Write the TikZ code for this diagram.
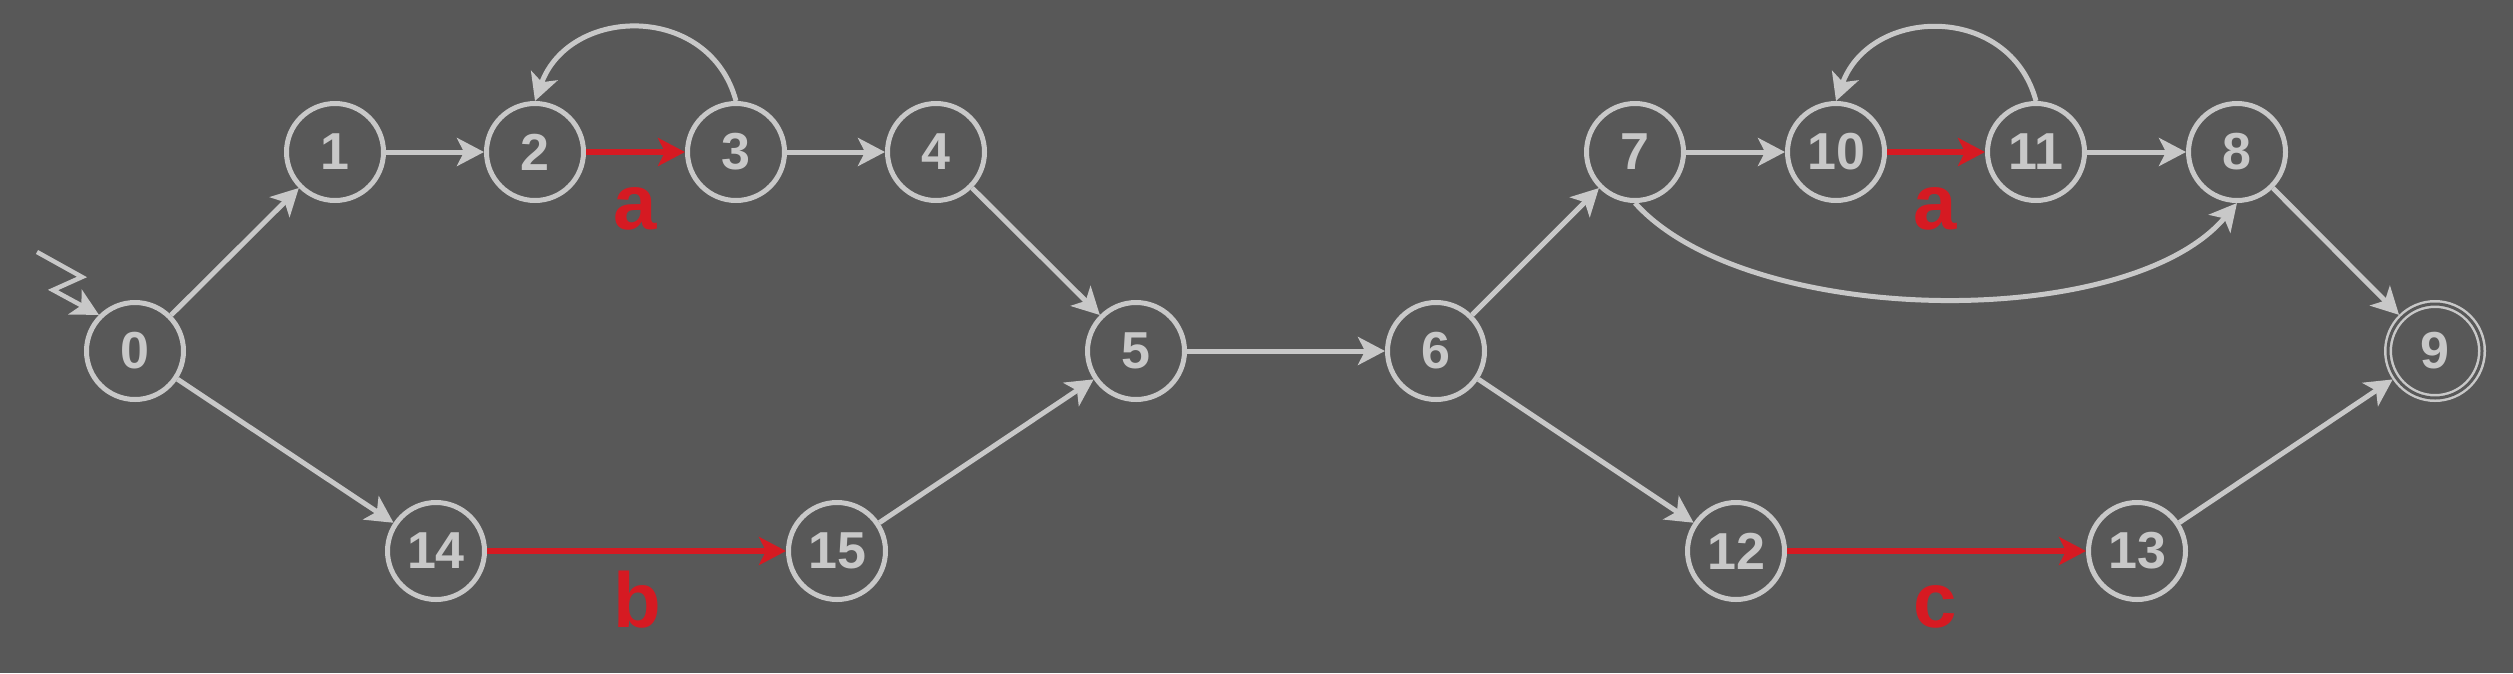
\documentclass[tikz,border=0pt]{standalone}
\usepackage{fontspec}
\setmainfont{Liberation Sans}
\usetikzlibrary{arrows.meta}
\definecolor{bgc}{RGB}{88,88,88}
\definecolor{lgc}{RGB}{200,200,200}
\definecolor{rdc}{RGB}{214,26,34}
\tikzset{
  state/.style={circle, draw=lgc, line width=5pt, minimum size=97pt, inner sep=0pt, outer sep=2.5pt,
    text=lgc, font=\fontsize{52}{52}\selectfont\bfseries},
  accstate/.style={circle, draw=lgc, double=bgc, double distance=3pt, line width=2.5pt, minimum size=94pt,
    inner sep=0pt, outer sep=4pt, text=lgc, font=\fontsize{52}{52}\selectfont\bfseries},
  edge/.style={draw=lgc, line width=5pt, -{Stealth[length=27pt,width=28pt,inset=7pt]}},
  redge/.style={draw=rdc, line width=5.5pt, -{Stealth[length=27pt,width=28pt,inset=7pt]}},
  lbl/.style={text=rdc, anchor=base, inner sep=0pt, font=\fontsize{78}{78}\selectfont\bfseries},
}
\begin{document}
\begin{tikzpicture}[x=1pt, y=-1pt]
\useasboundingbox[fill=bgc] (0,0) rectangle (2513,673);
% nodes
\node[state] (n0) at (135,351) {0};
\node[state] (n1) at (335,152) {1};
\node[state] (n2) at (535,152) {2};
\node[state] (n3) at (736,152) {3};
\node[state] (n4) at (936,152) {4};
\node[state] (n5) at (1136,351) {5};
\node[state] (n6) at (1436,351) {6};
\node[state] (n7) at (1635,152) {7};
\node[state] (n10) at (1836,152) {10};
\node[state] (n11) at (2036,152) {11};
\node[state] (n8) at (2237,152) {8};
\node[accstate] (n9) at (2435,351) {9};
\node[state] (n14) at (436,551) {14};
\node[state] (n15) at (837,551) {15};
\node[state] (n12) at (1736,551) {12};
\node[state] (n13) at (2137,551) {13};
% labels
\node[lbl] (la1) at (635,229) {a};
\node[lbl] (la2) at (1935,229) {a};
\node[lbl] (lb) at (637,627) {b};
\node[lbl] (lc) at (1935,627) {c};
% start arrow
\coordinate (s0) at (37,252);
\coordinate (s1) at (82,277);
\coordinate (s2) at (53,290);
\draw[edge, line width=4.5pt] (s0) -- (s1) -- (s2) -- (n0.135);
% edges
\draw[edge] (n0) -- (n1);
\draw[edge] (n1) -- (n2);
\draw[redge] (n2) -- (n3);
\draw[edge] (n3) -- (n4);
\draw[edge] (n3.north) to[out=105,in=70,looseness=1.3] (n2.north);
\draw[edge] (n4) -- (n5);
\draw[edge] (n0) -- (n14);
\draw[redge] (n14) -- (n15);
\draw[edge] (n15) -- (n5);
\draw[edge] (n5) -- (n6);
\draw[edge] (n6) -- (n7);
\draw[edge] (n7) -- (n10);
\draw[redge] (n10) -- (n11);
\draw[edge] (n11) -- (n8);
\draw[edge] (n11.north) to[out=105,in=70,looseness=1.3] (n10.north);
\draw[edge] (n7.south) to[out=-48,in=-130,looseness=0.72] (n8.south);
\draw[edge] (n8) -- (n9);
\draw[edge] (n6) -- (n12);
\draw[redge] (n12) -- (n13);
\draw[edge] (n13) -- (n9);
\end{tikzpicture}
\end{document}
